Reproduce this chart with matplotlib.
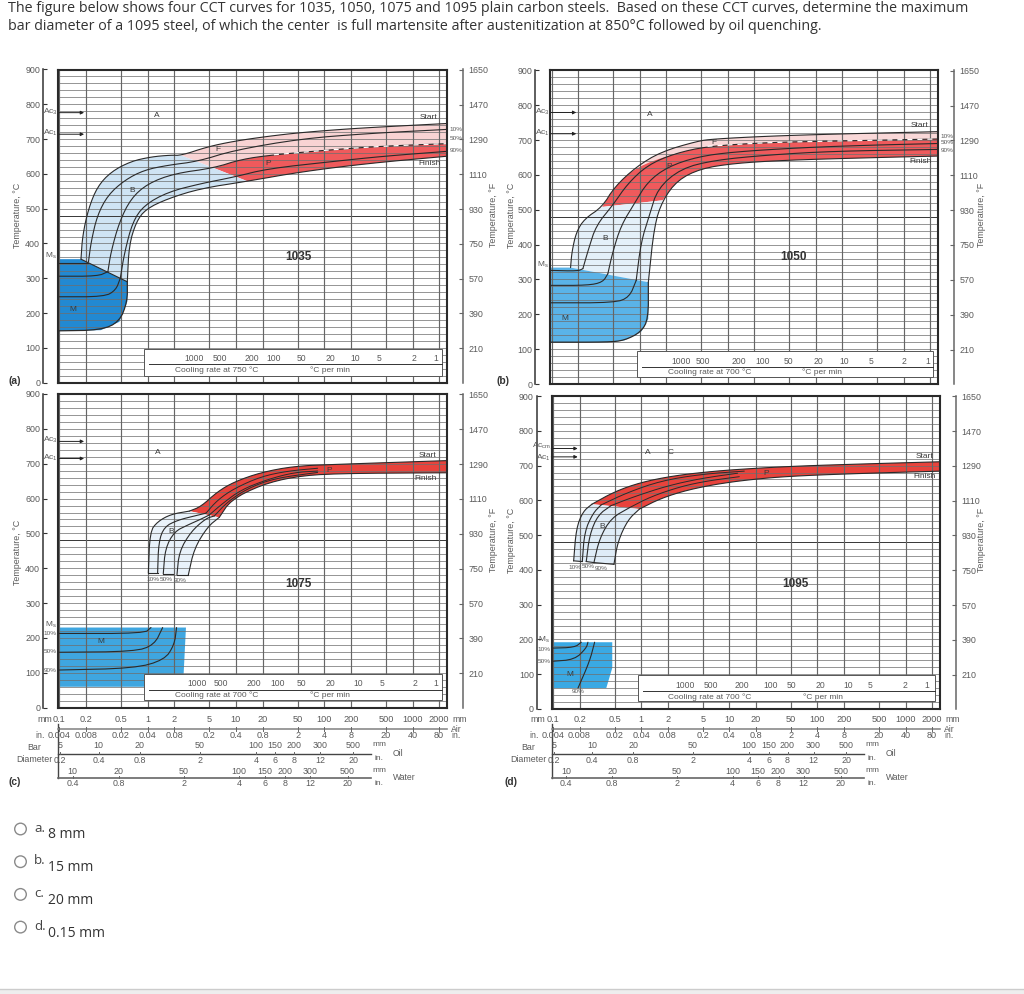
import numpy as np
import matplotlib
matplotlib.use('Agg')
import matplotlib.pyplot as plt
from matplotlib.patches import Rectangle, Circle

plt.rcParams['font.family'] = ['Liberation Sans', 'DejaVu Sans']
plt.rcParams['mathtext.default'] = 'regular'

W, H = 1024, 994
GREY = '#5a5a5a'
DARK = '#3a3a3a'
XMIN, XMAX = -1.015, 3.39
LEFT = -1.02

# x values of all curves are log10(air cooled bar diameter in mm), y values are deg C
air_mm = [0.1, 0.2, 0.5, 1, 2, 5, 10, 20, 50, 100, 200, 500, 1000, 2000]
air_in = ['0.004', '0.008', '0.02', '0.04', '0.08', '0.2', '0.4', '0.8', '2', '4', '8', '20', '40', '80']
oil_mm = [5, 10, 20, 50, 100, 150, 200, 300, 500]
oil_in = ['0.2', '0.4', '0.8', '2', '4', '6', '8', '12', '20']
oil_pos = [-.989, -.555, -.09, .589, 1.226, 1.445, 1.66, 1.955, 2.328]
water_mm = [10, 20, 50, 100, 150, 200, 300, 500]
water_in = ['0.4', '0.8', '2', '4', '6', '8', '12', '20']
water_pos = [-.849, -.328, .408, 1.038, 1.328, 1.558, 1.842, 2.264]
rates = [1000, 500, 200, 100, 50, 20, 10, 5, 2, 1]
temp_c = [0, 100, 200, 300, 400, 500, 600, 700, 800, 900]
temp_f = [30, 210, 390, 570, 750, 930, 1110, 1290, 1470, 1650]

# 1035
a_c1 = [(-.755, 355), (-.736, 424), (-.67, 500), (-.57, 563), (-.415, 606), (-.19, 636), (.04, 649), (.26, 654),
        (.38, 653), (.68, 678), (.98, 694), (1.36, 708), (1.74, 719), (2.3, 730), (2.87, 738), (3.4, 745)]
a_c2 = [(-.67, 347), (-.64, 405), (-.57, 481), (-.45, 539), (-.26, 582), (-.04, 611), (.23, 625), (.57, 636),
        (.98, 668), (1.74, 701), (2.49, 716), (3.4, 728)]
a_c3 = [(-.45, 319), (-.415, 376), (-.32, 462), (-.19, 529), (0, 572), (.3, 601), (.75, 617), (1.06, 642),
        (1.43, 655), (2.11, 670), (2.68, 680), (3.4, 687)]
a_c4 = [(-.31, 300), (-.26, 376), (-.17, 462), (-.04, 510), (.23, 548), (.6, 572), (.98, 591), (1.36, 615),
        (2.11, 636), (2.68, 651), (3.4, 665)]
a_c5 = [(-.23, 290), (-.21, 395), (-.13, 462), (-.02, 499), (.23, 529), (.6, 558), (1.13, 579), (1.74, 606),
        (2.49, 630), (3.4, 651)]
a_m = [(LEFT, 355), (-.755, 355), (-.23, 290), (-.23, 233), (-.32, 175), (-.53, 151), (LEFT, 149)]
a_m1 = [(LEFT, 345), (-.67, 345)]
a_m2 = [(LEFT, 306), (-.566, 306), (-.45, 319)]
a_m3 = [(LEFT, 247), (-.49, 247), (-.36, 266), (-.31, 300)]
a_rate_pos = [.528, .823, 1.177, 1.423, 1.747, 2.068, 2.355, 2.615, 3.011, 3.268]

# 1050
b_c1 = [(-.785, 334), (-.77, 379), (-.72, 436), (-.626, 474), (-.426, 508), (-.287, 565), (-.04, 623), (.24, 666),
        (.657, 697), (.845, 703), (1.45, 711), (2.2, 717), (3.39, 724)]
b_c2 = [(-.645, 331), (-.58, 388), (-.494, 455), (-.306, 513), (-.136, 575), (.09, 628), (.392, 661), (.77, 682),
        (1.45, 693), (2.2, 697), (3.39, 703)]
b_c3 = [(-.362, 316), (-.306, 379), (-.211, 455), (-.06, 518), (.09, 580), (.317, 623), (.657, 652), (1.07, 666),
        (1.83, 678), (2.58, 685), (3.39, 690)]
b_c4 = [(-.04, 297), (.015, 407), (.11, 484), (.204, 561), (.468, 618), (.845, 642), (1.45, 657), (2.2, 668),
        (3.39, 673)]
b_c5 = [(.098, 292), (.166, 455), (.26, 527), (.43, 585), (.694, 618), (1.07, 633), (1.64, 642), (2.58, 649),
        (3.39, 654)]
b_m = [(LEFT, 334), (-.785, 334), (.098, 292), (.098, 187), (.015, 149), (-.174, 125), (-.362, 120), (LEFT, 120)]
b_m1 = [(LEFT, 326), (-.70, 324), (-.645, 331)]
b_m2 = [(LEFT, 283), (-.59, 283), (-.42, 292), (-.362, 316)]
b_m3 = [(LEFT, 233), (-.287, 233), (-.117, 249), (-.04, 297)]
b_rate_pos = [.468, .721, 1.121, 1.4, 1.687, 2.034, 2.317, 2.626, 3.004, 3.268]

# 1075
c_top = [(.472, 564), (.604, 577), (.792, 620), (.981, 648), (1.283, 675), (1.66, 693), (2.113, 698), (3.404, 709)]
c_bot = [(.811, 546), (.943, 596), (1.283, 639), (1.66, 663), (2.113, 672), (3.404, 674)]
c_p1 = [(.66, 558), (.792, 596), (.981, 629), (1.283, 663), (1.585, 679), (1.925, 687)]
c_p2 = [(.698, 553), (.849, 586), (1.057, 625), (1.358, 655), (1.66, 675), (1.925, 679)]
c_p3 = [(.755, 550), (.906, 591), (1.132, 629), (1.434, 658), (1.925, 675)]
c_b1 = [(.008, 387), (.026, 505), (.113, 534), (.264, 555), (.472, 564)]
c_b2 = [(.113, 387), (.125, 476), (.189, 519), (.34, 538), (.528, 550), (.66, 558)]
c_b3 = [(.177, 384), (.2, 457), (.302, 505), (.453, 524), (.604, 541), (.698, 553)]
c_b4 = [(.332, 381), (.358, 448), (.49, 505), (.66, 543), (.755, 550)]
c_b5 = [(.46, 380), (.528, 457), (.679, 519), (.811, 546)]
c_feet = [[(.008, 387), (.113, 387)], [(.177, 384), (.283, 384)], [(.332, 380), (.46, 380)]]
c_m = [(LEFT, 230), (.434, 230), (.408, 99), (.40, 60), (LEFT, 60)]
c_m1 = [(LEFT, 213), (-.04, 213), (.038, 230)]
c_m2 = [(LEFT, 159), (-.151, 161), (.075, 180), (.17, 230)]
c_m3 = [(LEFT, 108), (-.151, 113), (.189, 137), (.302, 180), (.328, 230)]
c_rate_pos = [.558, .83, 1.2, 1.47, 1.747, 2.075, 2.389, 2.653, 3.03, 3.264]

# 1095
d_top = [(-.558, 589), (-.302, 625), (0, 652), (.377, 671), (.83, 684), (1.283, 692), (1.811, 699), (2.566, 705), (3.404, 711)]
d_bot = [(-.019, 575), (.226, 606), (.528, 630), (.906, 649), (1.358, 663), (1.811, 671), (2.566, 678), (3.404, 684)]
d_p1 = [(-.453, 587), (-.151, 623), (.226, 656), (.679, 675), (1.17, 684)]
d_p2 = [(-.34, 585), (-.075, 611), (.302, 642), (.679, 663), (1.094, 678)]
d_p3 = [(-.132, 579), (.113, 611), (.453, 640), (.755, 656), (1.113, 668)]
d_b1 = [(-.766, 426), (-.736, 520), (-.66, 568), (-.558, 589)]
d_b2 = [(-.668, 424), (-.642, 510), (-.547, 563), (-.453, 587)]
d_b3 = [(-.623, 424), (-.585, 501), (-.49, 558), (-.34, 585)]
d_b4 = [(-.536, 421), (-.472, 491), (-.34, 549), (-.132, 579)]
d_b5 = [(-.309, 416), (-.264, 482), (-.151, 544), (-.019, 575)]
d_feet = [[(-.766, 426), (-.668, 424)], [(-.623, 424), (-.536, 421)], [(-.536, 421), (-.309, 416)]]
d_m = [(LEFT, 192), (-.328, 192), (-.328, 118), (-.396, 60), (LEFT, 60)]
d_m1 = [(LEFT, 175), (-.755, 177), (-.679, 192)]
d_m2 = [(LEFT, 137), (-.755, 142), (-.623, 175), (-.604, 192)]
d_m3 = [(-.717, 60), (-.585, 137), (-.528, 192)]
d_rate_pos = [.502, .796, 1.14, 1.464, 1.702, 2.03, 2.351, 2.6, 2.992, 3.242]

options = ['a.', 'b.', 'c.', 'd.']
answers = ['8 mm', '15 mm', '20 mm', '0.15 mm']


def px_axes(fig, left, top, right, bottom):
    return fig.add_axes([left / W, 1 - bottom / H, (right - left) / W, (bottom - top) / H])


def smooth(pts, n=2):
    p = np.array(pts, dtype=float)
    for _ in range(n):
        q = [p[0]]
        for a, b in zip(p[:-1], p[1:]):
            q.append(.75 * a + .25 * b)
            q.append(.25 * a + .75 * b)
        q.append(p[-1])
        p = np.array(q)
    return p


def band(ax, top, bottom, color):
    p = np.vstack([smooth(top), smooth(bottom)[::-1]])
    ax.fill(p[:, 0], p[:, 1], color=color, lw=0, zorder=1)


def curve(ax, pts, lw=.8, color='#2a2a2a'):
    p = smooth(pts)
    ax.plot(p[:, 0], p[:, 1], color=color, lw=lw, zorder=3, solid_capstyle='round')


def panel(fig, box, number, num_pos, rate_pos, rate_text, rect, ac_t, ac_names, ac_lab):
    ax = px_axes(fig, *box)
    ax.set_xlim(XMIN, XMAX)
    ax.set_ylim(0, 900)
    for t in range(20, 900, 20):
        ax.axhline(t, color='#6e6e6e', lw=.6, zorder=2, alpha=.85)
    ax.axhline(480, color='#3a3a3a', lw=.7, zorder=2)
    for v in air_mm:
        ax.axvline(np.log10(v), color='#666666', lw=.85, zorder=2)
    ax.set_xticks([])
    ax.set_yticks([])
    for s in ax.spines.values():
        s.set_linewidth(1.5)
        s.set_color('#2a2a2a')
        s.set_zorder(6)

    left = ax.secondary_yaxis(-.0386)
    left.set_yticks(temp_c)
    left.tick_params(direction='in', length=3, width=.8, pad=2, labelsize=6.4, labelcolor=GREY, color='#333333')
    left.spines['left'].set_color('#333333')
    left.spines['left'].set_linewidth(1.1)
    right = ax.secondary_yaxis(1.041, functions=(lambda c: c * 1.8 + 32, lambda f: (f - 32) / 1.8))
    right.set_yticks(temp_f)
    right.tick_params(direction='in', length=3, width=.8, pad=4, labelsize=6.4, labelcolor=GREY, color='#666666')
    right.spines['right'].set_color('#666666')
    right.spines['right'].set_linewidth(1.1)

    # white inset with the cooling rate scale
    x0, x1, t0, t1, tl = rect
    ax.add_patch(Rectangle((x0, t0), x1 - x0, t1 - t0, fc='white', ec='#555555', lw=.7, zorder=4))
    ax.plot([x0 + .06, x1], [tl, tl], color='#333333', lw=.7, zorder=5)
    for r, x in zip(rates, rate_pos):
        ax.text(x, tl + 16, str(r), ha='center', va='center', fontsize=6.2, color=GREY, zorder=5)
    ax.text(x0 + .82, tl - 16, rate_text, ha='center', va='center', fontsize=6, color=GREY, zorder=5)
    ax.text(x0 + 2.1, tl - 16, '°C per min', ha='center', va='center', fontsize=6, color=GREY, zorder=5)

    ax.text(num_pos[0], num_pos[1], number, ha='center', va='center', fontsize=8.5, fontweight='bold', color='#333333', zorder=5)
    for t, n, lt in zip(ac_t, ac_names, ac_lab):
        ax.annotate('', xy=(-.72, t), xytext=(LEFT, t), zorder=5,
                    arrowprops=dict(arrowstyle='-|>', color='#222222', lw=.7, mutation_scale=5, shrinkA=0, shrinkB=0))
        ax.text(-1.02, lt, n, ha='right', va='center', fontsize=6, color=GREY, clip_on=False)
    return ax


def label(ax, x, t, s, size=6, color=DARK, ha='center'):
    ax.text(x, t, s, ha=ha, va='center', fontsize=size, color=color, zorder=5, clip_on=False)


def scales(fig, box):
    sc = px_axes(fig, box[0], 712, box[2], 795)
    sc.set_xlim(XMIN, XMAX)
    sc.set_ylim(83, 0)
    sc.axis('off')
    sc.plot([XMIN + .005, XMIN + .005], [12, 66], color='#444444', lw=1, clip_on=False)
    sc.plot([XMIN, XMAX], [16.7, 16.7], color='#8a8a8a', lw=1.2, clip_on=False)
    sc.plot([XMIN, 2.53], [42, 42], color='#444444', lw=1, clip_on=False)
    sc.plot([XMIN, 2.53], [66, 66], color='#666666', lw=1.2, clip_on=False)
    for v, inch in zip(air_mm, air_in):
        x = np.log10(v)
        sc.plot([x, x], [14.7, 18.7], color='#666666', lw=.7)
        label(sc, x, 8, f'{v:g}', 6.6, GREY)
        label(sc, x, 23.7, inch, 6.6, GREY)
    for x, v, inch in zip(oil_pos, oil_mm, oil_in):
        sc.plot([x, x], [40, 42], color='#666666', lw=.7)
        label(sc, x, 34, str(v), 6.4, GREY)
        label(sc, x, 48.5, inch, 6.4, GREY)
    for x, v, inch in zip(water_pos, water_mm, water_in):
        sc.plot([x, x], [64, 66], color='#666666', lw=.7)
        label(sc, x, 59, str(v), 6.4, GREY)
        label(sc, x, 71.7, inch, 6.4, GREY)
    label(sc, -1.17, 8, 'mm', 6.4, GREY)
    label(sc, -1.215, 23.7, 'in.', 6.4, GREY)
    label(sc, -1.283, 36, 'Bar', 6.4, GREY)
    label(sc, -1.283, 47, 'Diameter', 6.4, GREY)
    label(sc, 3.53, 8, 'mm', 6.2, GREY)
    label(sc, 3.50, 17, 'Air', 6.2, GREY)
    label(sc, 3.49, 24, 'in.', 6.2, GREY)
    label(sc, 2.62, 33, 'mm', 6, GREY)
    label(sc, 2.62, 47, 'in.', 6, GREY)
    label(sc, 2.83, 41, 'Oil', 6.2, GREY)
    label(sc, 2.62, 59, 'mm', 6, GREY)
    label(sc, 2.62, 71.7, 'in.', 6, GREY)
    label(sc, 2.906, 65, 'Water', 6.2, GREY)


fig = plt.figure(figsize=(W / 100, H / 100), dpi=100, facecolor='white')

# (a)
ax = panel(fig, (58, 69.5, 447, 382.7), '1035', (1.71, 362), a_rate_pos, 'Cooling rate at 750 °C',
           (-.04, 3.33, 20, 98, 53), [776, 714], ['Ac$_3$', 'Ac$_1$'], [779, 717])
band(ax, a_c1[8:], a_c3[6:], '#f8d3d3')
band(ax, a_c3[6:], a_c5[6:], '#ef5a5c')
band(ax, a_c1[:9], a_c5[:7], '#cfe4f4')
ax.fill(*zip(*a_m), color='#2289d2', lw=0, zorder=1)
for c in (a_c1, a_c2, a_c3, a_c4, a_c5, a_m1, a_m2, a_m3):
    curve(ax, c)
curve(ax, a_m[1:3], .8)
curve(ax, a_m[2:], .9)
d3 = smooth(a_c3[8:])
ax.plot(d3[:, 0], d3[:, 1], color='white', lw=.9, ls=(0, (4, 4)), zorder=3)
for x, t, s in [(.1, 768, 'A'), (-.18, 551, 'B'), (.8, 670, 'F'), (1.37, 630, 'P'), (-.845, 209, 'M'),
                (3.18, 762, 'Start'), (3.19, 629, 'Finish')]:
    label(ax, x, t, s)
label(ax, 3.49, 728, '10%', 4.6, GREY)
label(ax, 3.49, 701, '50%', 4.6, GREY)
label(ax, 3.49, 666, '90%', 4.6, GREY)
label(ax, -1.03, 364, 'M$_s$', 6, GREY, ha='right')

# (b)
ax = panel(fig, (550.3, 70.3, 938.3, 384), '1050', (1.75, 364), b_rate_pos, 'Cooling rate at 700 °C',
           (-.03, 3.33, 19, 96, 49), [779, 718], ['Ac$_3$', 'Ac$_1$'], [782, 721])
band(ax, b_c1[6:], b_c2[6:], '#f9d8d8')
band(ax, b_c1[4:7] + b_c2[6:], b_c5[2:], '#ef5a5c')
band(ax, b_c1[:5], b_c5[:3], '#e4f0f9')
ax.fill(*zip(*b_m), color='#5ab3e8', lw=0, zorder=1)
for c in (b_c1, b_c2, b_c3, b_c4, b_c5, b_m1, b_m2, b_m3):
    curve(ax, c)
curve(ax, b_m[2:], .9)
d2 = smooth(b_c2[7:])
ax.plot(d2[:, 0], d2[:, 1], color='white', lw=.9, ls=(0, (4, 4)), zorder=3)
for x, t, s in [(.11, 772, 'A'), (-.39, 417, 'B'), (.845, 693, 'F'), (.336, 623, 'P'), (-.853, 187, 'M'),
                (3.18, 743, 'Start'), (3.19, 637, 'Finish')]:
    label(ax, x, t, s)
label(ax, 3.49, 711, '10%', 4.6, GREY)
label(ax, 3.49, 692, '50%', 4.6, GREY)
label(ax, 3.49, 670, '90%', 4.6, GREY)
label(ax, -1.03, 343, 'M$_s$', 6, GREY, ha='right')

# (c)
ax = panel(fig, (58, 394, 447, 707.7), '1075', (1.71, 356), c_rate_pos, 'Cooling rate at 700 °C',
           (-.04, 3.33, 22, 98, 52), [764, 715], ['Ac$_3$', 'Ac$_1$'], [767, 718])
band(ax, c_top, c_bot, '#e8433c')
band(ax, c_b1 + c_top[:1], c_b5, '#e9f2fa')
ax.fill(*zip(*c_m), color='#3fa6e0', lw=0, zorder=1)
for c in (c_top, c_bot, c_b1, c_b2, c_b3, c_b4, c_b5, c_m1, c_m2, c_m3):
    curve(ax, c)
for c in (c_p1, c_p2, c_p3):
    curve(ax, c, .7)
for c in c_feet:
    ax.plot(*zip(*c), color='#2a2a2a', lw=.8, zorder=3)
for x, t, s in [(.117, 733, 'A'), (.264, 505, 'B'), (2.06, 680, 'P'), (-.53, 189, 'M'),
                (3.17, 724, 'Start'), (3.15, 659, 'Finish')]:
    label(ax, x, t, s)
for x, t, s in [(.057, 368, '10%'), (.215, 368, '50%'), (.37, 364, '90%'),
                (-1.03, 212, '10%'), (-1.03, 160, '50%'), (-1.03, 106, '90%')]:
    label(ax, x, t, s, 4.6, GREY, ha='center' if x > 0 else 'right')
label(ax, -1.03, 237, 'M$_s$', 6, GREY, ha='right')
scales(fig, (58, 394, 447, 707.7))

# (d)
ax = panel(fig, (551.7, 396, 940, 709), '1095', (1.755, 360), d_rate_pos, 'Cooling rate at 700 °C',
           (-.038, 3.328, 22, 97, 51), [749, 725], ['Ac$_{cm}$', 'Ac$_1$'], [757, 722])
band(ax, d_top, d_bot, '#e8433c')
band(ax, d_b1, d_b5, '#dfecf7')
ax.fill(*zip(*d_m), color='#3aa9e4', lw=0, zorder=1)
for c in (d_top, d_bot, d_b1, d_b2, d_b3, d_b4, d_b5, d_m1, d_m2, d_m3):
    curve(ax, c)
for c in (d_p1, d_p2, d_p3):
    curve(ax, c, .7)
for c in d_feet:
    ax.plot(*zip(*c), color='#2a2a2a', lw=.8, zorder=3)
for x, t, s in [(.08, 737, 'A'), (.336, 738, 'C'), (-.445, 525, 'B'), (1.415, 677, 'P'), (-.804, 99, 'M'),
                (3.21, 726, 'Start'), (3.21, 668, 'Finish')]:
    label(ax, x, t, s)
for x, t, s in [(-.755, 407, '10%'), (-.604, 409, '50%'), (-.453, 405, '90%'), (-.717, 49, '90%')]:
    label(ax, x, t, s, 4.6, GREY)
label(ax, -1.03, 172, '10%', 4.6, GREY, ha='right')
label(ax, -1.03, 138, '50%', 4.6, GREY, ha='right')
label(ax, -1.03, 199, '-M$_s$', 6, GREY, ha='right')
scales(fig, (551.7, 396, 940, 709))

# page level text
pg = fig.add_axes([0, 0, 1, 1], zorder=10)
pg.set_xlim(0, W)
pg.set_ylim(H, 0)
pg.axis('off')
pg.patch.set_alpha(0)
pg.text(8, 9, 'The figure below shows four CCT curves for 1035, 1050, 1075 and 1095 plain carbon steels.  Based on these CCT curves, determine the maximum',
        fontsize=10.3, family='Open Sans', color='#333333', va='center')
pg.text(8, 26, 'bar diameter of a 1095 steel, of which the center  is full martensite after austenitization at 850°C followed by oil quenching.',
        fontsize=10.3, family='Open Sans', color='#333333', va='center')
for x, y, s in [(15, 381, '(a)'), (503, 381, '(b)'), (15, 782, '(c)'), (511, 782, '(d)')]:
    pg.text(x, y, s, fontsize=7.4, fontweight='bold', color='#333333', ha='center', va='center')
for x, y in [(18, 215), (512, 215), (18, 552), (512, 540)]:
    pg.text(x, y, 'Temperature, °C', fontsize=6.4, color=GREY, rotation=90, ha='center', va='center')
for x, y in [(493, 215), (982, 215), (493, 540), (982, 540)]:
    pg.text(x, y, 'Temperature, °F', fontsize=6.4, color=GREY, rotation=90, ha='center', va='center')
for i, (o, a) in enumerate(zip(options, answers)):
    y = 829 + i * 32.7
    pg.add_patch(Circle((20.5, y), 5.8, fc='white', ec='#8a8a8a', lw=1))
    pg.text(34, y - 1, o, fontsize=9.6, family='Open Sans', color='#444444', va='center')
    pg.text(48, y + 6, a, fontsize=10, family='Open Sans', color='#333333', va='center')
pg.add_patch(Rectangle((0, 989), W, 5, fc='#eeeeee', ec='none'))
pg.plot([0, W], [988.5, 988.5], color='#cccccc', lw=1)

fig.savefig('out.png', dpi=100)
